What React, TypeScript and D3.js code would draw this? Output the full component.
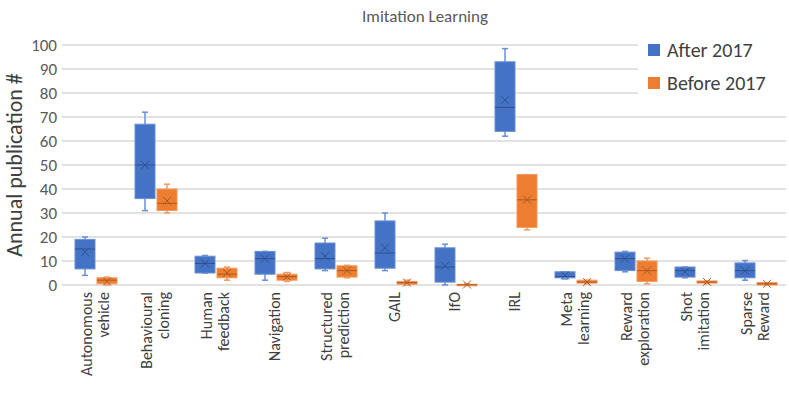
import * as d3 from 'd3';

const categories = [
  ['Autonomous', 'vehicle'], ['Behavioural', 'cloning'], ['Human', 'feedback'], ['Navigation'],
  ['Structured', 'prediction'], ['GAIL'], ['IfO'], ['IRL'], ['Meta', 'learning'],
  ['Reward', 'exploration'], ['Shot', 'imitation'], ['Sparse', 'Reward'],
];
// [min, q1, median, q3, max, mean]
const after2017 = [
  [4, 6.7, 15, 19, 20, 13.7], [31, 36, 50, 67, 72, 50], [5, 5, 9, 12, 12.3, 9], [2, 4.5, 11, 14, 14, 11],
  [6, 6.7, 11, 17.5, 19.5, 12], [6, 7, 13.3, 26.7, 30, 15.5], [0, 1.2, 7.5, 15.5, 17, 8], [62, 64, 74, 93, 98.5, 77],
  [2.5, 3, 3.5, 5.5, 5.5, 4], [5.5, 6, 11, 13.7, 14, 11], [3, 3.3, 6, 7.5, 7.5, 5.5], [2, 3, 6, 9.2, 10.2, 6],
];
const before2017 = [
  [0, 0.5, 2, 3, 3.3, 1.5], [30, 31, 34, 40, 42, 35], [2, 3, 4.5, 7, 7.5, 5], [1.5, 2, 3.5, 4.5, 5.2, 3.5],
  [3, 3.3, 6, 8, 8.2, 6], [0, 0.3, 1, 1.5, 2, 1], [0, 0, 0.1, 0.3, 0.5, 0.2], [23, 24, 35.5, 46, 46, 35.5],
  [0.5, 0.8, 1.2, 2, 2, 1.2], [0.5, 1.5, 6, 10, 11.2, 6], [0.5, 0.8, 1.2, 1.7, 1.7, 1.3], [0, 0, 0.5, 1, 1, 0.5],
];
const yTicks = d3.range(0, 101, 10);
const series = [
  { name: 'After 2017', data: after2017, fill: '#4472C4', stroke: '#6a8fd4', dark: '#2f528f', off: -11 },
  { name: 'Before 2017', data: before2017, fill: '#ED7D31', stroke: '#f29a5e', dark: '#ae5a21', off: 11 },
];

export default function App() {
  const W = 789, H = 402;
  const x = d3.scaleBand().domain(categories.map((_, i) => String(i))).range([66, 786]);
  const y = d3.scaleLinear().domain([0, 100]).range([285, 45]);
  const font = 'Calibri, Carlito, "Open Sans", sans-serif';
  const bw = 20;
  return (
    <svg width={W} height={H} style={{ position: 'absolute', left: 0, top: 0, fontFamily: font }}>
      <rect width={W} height={H} fill="#fff" />
      <text x={425} y={22} textAnchor="middle" fontSize={17} fill="#595959">Imitation Learning</text>
      {yTicks.map(t => (
        <g key={t}>
          <line x1={62} x2={786} y1={y(t)} y2={y(t)} stroke="#d9d9d9" strokeWidth={1.5} />
          <text x={57} y={y(t) + 6} textAnchor="end" fontSize={17} fill="#595959">{t}</text>
        </g>
      ))}
      <text transform="translate(22,165) rotate(-90)" textAnchor="middle" fontSize={22} fill="#404040">Annual publication #</text>
      <rect x={638} y={38} width={151} height={72} fill="#fff" />
      {series.map((s, k) => (
        <g key={s.name}>
          <rect x={648} y={44 + k * 33} width={12} height={12} fill={s.fill} />
          <text x={667} y={57 + k * 33} fontSize={20} fill="#404040">{s.name}</text>
        </g>
      ))}
      {series.map(s => s.data.map((d, i) => {
        const cx = (x(String(i)) as number) + x.bandwidth() / 2 + s.off;
        const [mn, q1, md, q3, mx, mean] = d;
        const my = y(mean);
        return (
          <g key={s.name + i}>
            <line x1={cx} x2={cx} y1={y(mx)} y2={y(mn)} stroke={s.stroke} strokeWidth={1.5} />
            <line x1={cx - 3} x2={cx + 3} y1={y(mx)} y2={y(mx)} stroke={s.stroke} strokeWidth={1.5} />
            <line x1={cx - 3} x2={cx + 3} y1={y(mn)} y2={y(mn)} stroke={s.stroke} strokeWidth={1.5} />
            <rect x={cx - bw / 2} y={y(q3)} width={bw} height={Math.max(1.5, y(q1) - y(q3))} fill={s.fill} stroke={s.stroke} strokeWidth={1} />
            <line x1={cx - bw / 2} x2={cx + bw / 2} y1={y(md)} y2={y(md)} stroke={s.dark} strokeWidth={1} />
            <path d={`M${cx - 4},${my - 4}L${cx + 4},${my + 4}M${cx - 4},${my + 4}L${cx + 4},${my - 4}`} stroke={s.dark} strokeWidth={1} />
          </g>
        );
      }))}
      {categories.map((lines, i) => {
        const cx = (x(String(i)) as number) + x.bandwidth() / 2 - 2;
        return lines.map((l, j) => (
          <text key={i + l} transform={`translate(${cx + (j - (lines.length - 1) / 2) * 17 + 6},292) rotate(-90)`}
            textAnchor="end" fontSize={16} fill="#404040">{l}</text>
        ));
      })}
    </svg>
  );
}
